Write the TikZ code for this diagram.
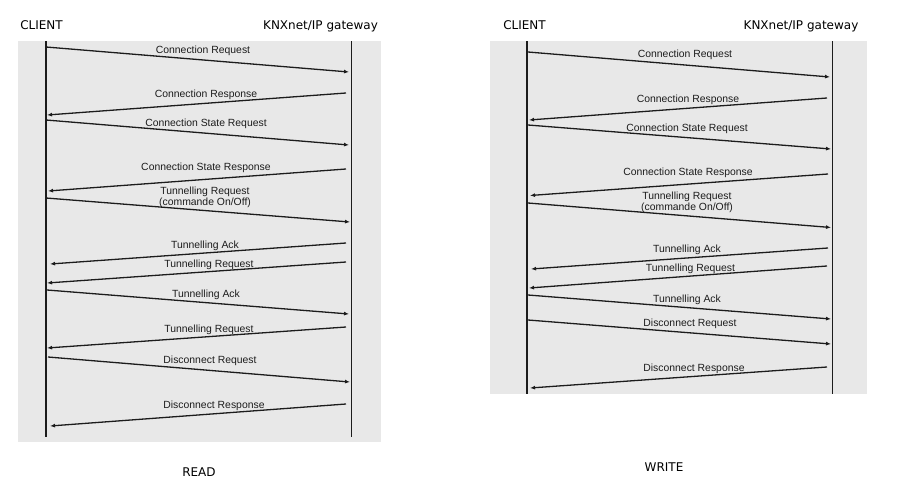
\documentclass[tikz,border=0pt]{standalone}
\usepackage{fontspec}
\setmainfont{DejaVu Sans}
\newfontfamily\msgfont{Liberation Sans}
\usetikzlibrary{arrows.meta}
\definecolor{panelgray}{HTML}{E8E8E8}
\definecolor{inkgray}{HTML}{1C1C1C}
\tikzset{
  panel/.style={fill=panelgray,draw=none},
  lifeline/.style={line width=1.6pt,draw=inkgray},
  msg/.style={line width=1.3pt,draw=inkgray,-{Latex[length=5pt,width=4pt]}},
  msglabel/.style={font=\msgfont\fontsize{10.4}{10.5}\selectfont,text=inkgray,inner sep=0pt,anchor=base,align=center},
  actor/.style={font=\fontsize{12}{14}\selectfont,inner sep=0pt,anchor=base},
}
\begin{document}
\begin{tikzpicture}[x=1pt,y=-1pt]
\useasboundingbox (0,0) rectangle (914,498);
% READ panel
\fill[panel] (18,41) rectangle (381,441.5);
\node[actor] (rdClient) at (41.5,29.5) {CLIENT};
\node[actor] (rdGate) at (320.5,29.5) {KNXnet/IP gateway};
\coordinate (rdCtop) at (46,41);  \coordinate (rdCbot) at (46,437);
\coordinate (rdGtop) at (351.5,41); \coordinate (rdGbot) at (351.5,437);
\draw[lifeline] (rdCtop)--(rdCbot);
\draw[lifeline] (rdGtop)--(rdGbot);
\draw[msg] (46,47)--(349,72);
\node[msglabel] (rdM1) at (203,53) {Connection Request};
\draw[msg] (346,93)--(47,115);
\node[msglabel] (rdM2) at (206,97.5) {Connection Response};
\draw[msg] (46,120)--(349,145);
\node[msglabel] (rdM3) at (206,126.5) {Connection State Request};
\draw[msg] (346,169)--(48,191);
\node[msglabel] (rdM4) at (206,170) {Connection State Response};
\draw[msg] (46,198)--(350,222);
\node[msglabel] (rdM5) at (205,205) {Tunnelling Request\\(commande On/Off)};
\draw[msg] (346,243)--(50,264);
\node[msglabel] (rdM6) at (205,248) {Tunnelling Ack};
\draw[msg] (346,262)--(47,283);
\node[msglabel] (rdM7) at (209,267) {Tunnelling Request};
\draw[msg] (47,290)--(349,314);
\node[msglabel] (rdM8) at (206,297) {Tunnelling Ack};
\draw[msg] (346,327)--(47,348);
\node[msglabel] (rdM9) at (209,332) {Tunnelling Request};
\draw[msg] (48,357)--(350,382);
\node[msglabel] (rdM10) at (210,363) {Disconnect Request};
\draw[msg] (346,404)--(50,426);
\node[msglabel] (rdM11) at (214,408.5) {Disconnect Response};
\node[actor] (rdTitle) at (199,476.5) {READ};
% WRITE panel
\fill[panel] (490,41) rectangle (866.7,394.3);
\node[actor] (wrClient) at (524.5,29.5) {CLIENT};
\node[actor] (wrGate) at (801,29.5) {KNXnet/IP gateway};
\coordinate (wrCtop) at (527,41);  \coordinate (wrCbot) at (527,394.3);
\coordinate (wrGtop) at (832.5,41); \coordinate (wrGbot) at (832.5,394.3);
\draw[lifeline] (wrCtop)--(wrCbot);
\draw[lifeline] (wrGtop)--(wrGbot);
\draw[msg] (528,52)--(830,77);
\node[msglabel] (wrM1) at (685,57) {Connection Request};
\draw[msg] (827,98)--(529,120);
\node[msglabel] (wrM2) at (688,102.5) {Connection Response};
\draw[msg] (528,125)--(831,149);
\node[msglabel] (wrM3) at (687,131.5) {Connection State Request};
\draw[msg] (828,174)--(530,195.5);
\node[msglabel] (wrM4) at (688,175.5) {Connection State Response};
\draw[msg] (528,203)--(831,227.5);
\node[msglabel] (wrM5) at (687,210) {Tunnelling Request\\(commande On/Off)};
\draw[msg] (828,248)--(531,269);
\node[msglabel] (wrM6) at (687,252) {Tunnelling Ack};
\draw[msg] (827,266)--(529,288);
\node[msglabel] (wrM7) at (690.5,271.5) {Tunnelling Request};
\draw[msg] (528,295)--(831,319);
\node[msglabel] (wrM8) at (687,302) {Tunnelling Ack};
\draw[msg] (528,320)--(831,344);
\node[msglabel] (wrM9) at (690,326) {Disconnect Request};
\draw[msg] (827,367)--(530,388);
\node[msglabel] (wrM10) at (694,371) {Disconnect Response};
\node[actor] (wrTitle) at (664,471.5) {WRITE};
\end{tikzpicture}
\end{document}
